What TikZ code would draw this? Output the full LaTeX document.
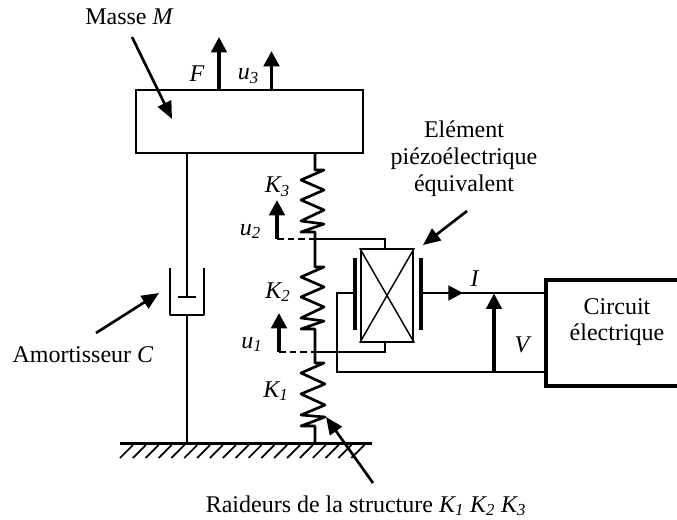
\documentclass[tikz,border=0pt]{standalone}
\usepackage{fontspec}
\setmainfont{Liberation Serif}
\usetikzlibrary{arrows.meta}
\newcommand{\ksub}[2]{\textit{#1\textsubscript{#2}}}
\tikzset{
  x=0.75pt,y=-0.75pt,
  lbl/.style={font=\fontsize{18}{22}\selectfont,inner sep=0pt,anchor=base},
  wirethin/.style={line width=1.4pt},
  wirethick/.style={line width=2.1pt},
  springline/.style={line width=2pt,line join=round},
  headup/.style={-{Triangle[length=11.5pt,width=11.5pt]}},
  pointer/.style={line width=2pt,-{Triangle[length=13pt,width=11pt]}},
  thickarrow/.style={line width=2.8pt,headup},
}
\begin{document}
\begin{tikzpicture}
\useasboundingbox (0,0) rectangle (677,520);
% mass
\node[draw,line width=1.6pt,inner sep=0pt,rectangle,
  minimum width=170.25pt,minimum height=47pt] (mass) at (249.5,121.5) {};
\coordinate (fb) at (219,90); \coordinate (ft) at (219,37);
\coordinate (ub) at (271.5,90); \coordinate (ut) at (271.5,51);
\draw[thickarrow,line width=2.4pt] (fb) -- (ft);
\draw[thickarrow] (ub) -- (ut);
\node[lbl] (lM) at (129.5,25) {Masse \textit{M}};
\coordinate (mA) at (132,37); \coordinate (mB) at (172,119);
\draw[pointer] (mA) -- (mB);
\node[lbl] (lF) at (197,82) {\textit{F}};
\node[lbl] (lu3) at (248.5,80) {\ksub{u}{3}};
% ground
\coordinate (g1) at (120,443.5); \coordinate (g2) at (372,443.5);
\draw[line width=2.4pt] (g1) -- (g2);
\foreach \i in {0,...,18}{
  \draw[line width=1.3pt] ({120+12.85*\i},458) -- ({133+12.85*\i},445);
}
% damper
\coordinate (d1) at (187,153); \coordinate (d2) at (187,297);
\coordinate (d3) at (187,315); \coordinate (d4) at (187,443);
\coordinate (pl) at (178,297); \coordinate (pr) at (195.5,297);
\coordinate (c1) at (170,268); \coordinate (c2) at (170,315);
\coordinate (c3) at (204,315); \coordinate (c4) at (204,268);
\draw[wirethick] (d1) -- (d2);
\draw[wirethick] (d3) -- (d4);
\draw[wirethick] (pl) -- (pr);
\draw[wirethick,line join=round] (c1) -- (c2) -- (c3) -- (c4);
\node[lbl] (lC) at (83,362) {Amortisseur \textit{C}};
\coordinate (cA) at (96,333); \coordinate (cB) at (159,293);
\draw[pointer] (cA) -- (cB);
% springs
\draw[springline] (315,153) -- (315,170) -- (324,170) -- (301,180) -- (324,190) -- (301,200) -- (324,210) -- (301,221) -- (324,224) -- (301,232) -- (315,232) -- (315,267)
  -- (324,267) -- (301,277) -- (324,287) -- (301,297) -- (324,307) -- (301,318) -- (324,321) -- (301,329) -- (315,329) -- (315,363)
  -- (324,363) -- (301,373) -- (325,384) -- (301,394) -- (325,405) -- (301,415) -- (325,417) -- (301,426) -- (315,426) -- (315,443);
\node[lbl] (lK3) at (277.5,193) {\ksub{K}{3}};
\node[lbl] (lK2) at (278,298) {\ksub{K}{2}};
\node[lbl] (lK1) at (276,397) {\ksub{K}{1}};
% displacement arrows
\coordinate (j2) at (315,239); \coordinate (j1) at (315,352);
\coordinate (a2) at (277,239); \coordinate (a1) at (279,352);
\coordinate (a2t) at (277,200); \coordinate (a1t) at (279,313);
\draw[thickarrow] (a2) -- (a2t);
\draw[thickarrow] (a1) -- (a1t);
\draw[wirethin,dash pattern=on 5pt off 3pt] (a2) -- (j2);
\draw[wirethin,dash pattern=on 5pt off 3pt] (a1) -- (j1);
\node[lbl] (lu2) at (250.5,235) {\ksub{u}{2}};
\node[lbl] (lu1) at (252,348) {\ksub{u}{1}};
% piezo
\node[draw,wirethin,inner sep=0pt,minimum width=39.5pt,minimum height=69.5pt] (pz) at (387,295.5) {};
\draw[line width=1.1pt] (pz.north west) -- (pz.south east);
\draw[line width=1.1pt] (pz.north east) -- (pz.south west);
\coordinate (pt) at (385,249); \coordinate (pb) at (385,342);
\draw[wirethin] (j2) -- (385,239) -- (pt);
\draw[wirethin] (j1) -- (385,352) -- (pb);
\coordinate (l1) at (355,258); \coordinate (l2) at (355,330);
\coordinate (r1) at (421,258); \coordinate (r2) at (421,330);
\draw[line width=2.8pt] (l1) -- (l2);
\draw[line width=2.8pt] (r1) -- (r2);
\coordinate (lm) at (355,293); \coordinate (rm) at (421,293);
% circuit
\coordinate (ck1) at (677,280); \coordinate (ck2) at (546,280);
\coordinate (ck3) at (546,386); \coordinate (ck4) at (677,386);
\draw[line width=2.8pt] (ck1) -- (ck2) -- (ck3) -- (ck4);
\coordinate (wt) at (546,293); \coordinate (wb) at (546,372);
\draw[wirethick] (rm) -- (wt);
\draw[wirethick] (lm) -- (337,293) -- (337,372) -- (wb);
\coordinate (iA) at (445,293); \coordinate (iB) at (463,293);
\draw[wirethick,-{Triangle[length=11pt,width=11pt]}] (iA) -- (iB);
\coordinate (vb) at (494,372); \coordinate (vt) at (494,293.5);
\draw[thickarrow,line width=2.4pt] (vb) -- (vt);
\node[lbl] (lI) at (475,286) {\textit{I}};
\node[lbl] (lV) at (523,352) {\textit{V}};
\node[lbl] (lc1) at (617,314) {Circuit};
\node[lbl] (lc2) at (617,340) {électrique};
% piezo label
\node[lbl] (le1) at (464,138) {Elément};
\node[lbl] (le2) at (464,165) {piézoélectrique};
\node[lbl] (le3) at (464,192) {équivalent};
\coordinate (eA) at (467,211); \coordinate (eB) at (423,245);
\draw[pointer] (eA) -- (eB);
% raideurs
\node[lbl] (lR) at (366,512) {Raideurs de la structure \ksub{K}{1} \ksub{K}{2} \ksub{K}{3}};
\coordinate (rA) at (373,483); \coordinate (rB) at (326,417);
\draw[pointer] (rA) -- (rB);
\end{tikzpicture}
\end{document}
